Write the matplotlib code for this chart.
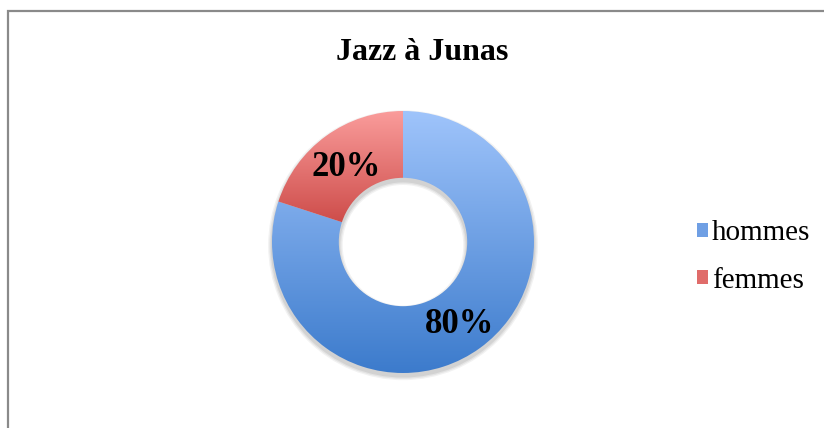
import numpy as np
import matplotlib
matplotlib.use("Agg")
import matplotlib.pyplot as plt
from matplotlib.patches import Patch, Rectangle, Wedge
from matplotlib.colors import LinearSegmentedColormap

# data
labels = ["hommes", "femmes"]
shares = [80, 20]
title = "Jazz à Junas"

# style
W, H, DPI = 824, 428, 100
SERIF = ["Liberation Serif", "DejaVu Serif"]
TOP_COLORS = ["#9fc4fb", "#fa9c9b"]
BOTTOM_COLORS = ["#3c7bcc", "#c63f3c"]
RING_WIDTH = 0.51
CX, CY, R = 403, 242, 131   # donut centre and radius in pixels

fig = plt.figure(figsize=(W / DPI, H / DPI), dpi=DPI, facecolor="white")

# axes sized so that data radius 1 == R pixels
half = 160
ax = fig.add_axes([(CX - half) / W, (H - CY - half) / H, 2 * half / W, 2 * half / H])
lim = half / R
ax.set_xlim(-lim, lim)
ax.set_ylim(-lim, lim)
ax.set_aspect("equal")
ax.axis("off")

# soft shadow under the ring
for k, a in [(0.030, 0.05), (0.020, 0.06), (0.010, 0.07)]:
    ax.add_patch(Wedge((0, -0.025), 1 + k, 0, 360, width=RING_WIDTH + 2 * k,
                       facecolor="#000000", alpha=a, edgecolor="none", zorder=0))

wedges, texts, autotexts = ax.pie(
    shares, startangle=90, counterclock=False, radius=1,
    autopct="%.0f%%", pctdistance=0.74,
    wedgeprops=dict(width=RING_WIDTH, edgecolor="none", linewidth=0),
    textprops=dict(fontfamily=SERIF, fontsize=25, fontweight="bold", color="black"),
)

# vertical gradient fill for each wedge, clipped to its shape
grad = np.linspace(1, 0, 256).reshape(-1, 1)
for w, top, bot in zip(wedges, TOP_COLORS, BOTTOM_COLORS):
    w.set_facecolor("none")
    verts = w.get_patch_transform().transform(w.get_path().vertices)
    x0, y0 = verts.min(axis=0)
    x1, y1 = verts.max(axis=0)
    cmap = LinearSegmentedColormap.from_list("g", [bot, top])
    im = ax.imshow(grad, cmap=cmap, extent=[x0, x1, y0, y1], origin="upper",
                   aspect="auto", interpolation="bicubic", zorder=1)
    im.set_clip_path(w)

for t in autotexts:
    t.set_zorder(5)
    t.set_va("center_baseline")

ax.set_xlim(-lim, lim)
ax.set_ylim(-lim, lim)

fig.text(422 / W, 1 - 53 / H, title, ha="center", va="center",
         fontfamily=SERIF, fontsize=23, fontweight="bold")

mid_colors = ["#6f9fe4", "#e06c6a"]
handles = [Patch(facecolor=c, edgecolor="none") for c in mid_colors]
leg = fig.legend(handles, labels, loc="center left",
                 bbox_to_anchor=(697 / W, 1 - 257 / H), frameon=False,
                 prop=dict(family=SERIF, size=21),
                 handlelength=0.38, handleheight=0.38, handletextpad=0.12,
                 labelspacing=0.72, borderpad=0, borderaxespad=0)

# chart frame (only top and left edges fall inside the picture)
fig.patches.append(Rectangle((8 / W, -0.1), 1.2, 1 - 11 / H + 0.1,
                             transform=fig.transFigure, fill=False,
                             edgecolor="#8a8a8a", linewidth=1.6))

fig.savefig("out.png", dpi=DPI, facecolor="white")
